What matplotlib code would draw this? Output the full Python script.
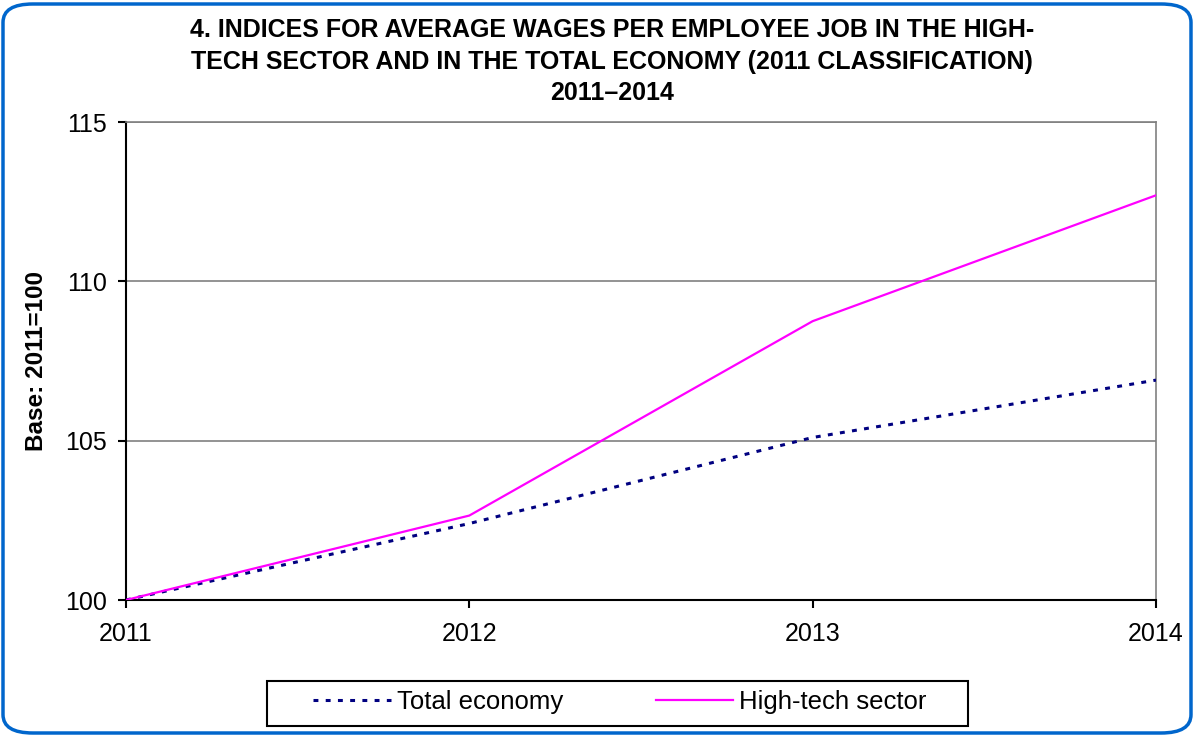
import matplotlib
matplotlib.use("Agg")
import matplotlib.pyplot as plt
from matplotlib.patches import FancyBboxPatch, Rectangle

years = [2011, 2012, 2013, 2014]
total_economy = [100.0, 102.4, 105.1, 106.9]
high_tech = [100.0, 102.65, 108.75, 112.7]
yticks = [100, 105, 110, 115]

plt.rcParams['font.family'] = ['Liberation Sans', 'DejaVu Sans']

W, H = 1195, 736
fig = plt.figure(figsize=(W / 100, H / 100), dpi=100)

# rounded blue frame
frame = FancyBboxPatch((3 / W, 3 / H), (W - 7) / W, (H - 7) / H,
                       boxstyle="round,pad=0,rounding_size=0.025",
                       transform=fig.transFigure, facecolor='none',
                       edgecolor='#0066CC', linewidth=2.5, zorder=10)
fig.patches.append(frame)

ax = fig.add_axes([126 / W, 1 - 600 / H, (1156 - 126) / W, (600 - 122) / H])
ax.set_facecolor('none')

ax.plot(years, total_economy, color='#000080', linestyle=(0, (1.6, 2.4)),
        linewidth=2.2, label='Total economy', zorder=3)
ax.plot(years, high_tech, color='#FF00FF', linestyle='-', linewidth=1.6,
        label='High-tech sector', zorder=4)

ax.set_xlim(2011, 2014)
ax.set_ylim(100, 115)
ax.set_xticks(years)
ax.set_yticks(yticks)
ax.yaxis.grid(True, color='#808080', linewidth=1.2)
ax.set_axisbelow(True)

for s in ['top', 'right']:
    ax.spines[s].set_color('#808080')
    ax.spines[s].set_linewidth(1.2)
for s in ['left', 'bottom']:
    ax.spines[s].set_color('black')
    ax.spines[s].set_linewidth(1.5)
ax.tick_params(axis='both', direction='out', length=6, width=1.5,
               color='black')
ax.tick_params(axis='x', pad=10)
ax.tick_params(axis='y', pad=8)
ax.set_xticklabels([str(y) for y in years], fontsize=18)
ax.set_yticklabels([str(v) for v in yticks], fontsize=18)

ax.set_ylabel('Base: 2011=100', fontsize=17.5, fontweight='bold', labelpad=12)

fig.text(0.512, 1 - 18 / H,
         '4. INDICES FOR AVERAGE WAGES PER EMPLOYEE JOB IN THE HIGH-\n'
         'TECH SECTOR AND IN THE TOTAL ECONOMY (2011 CLASSIFICATION)\n'
         '2011\u20132014',
         ha='center', va='top', fontsize=18, fontweight='bold',
         linespacing=1.4, multialignment='center')

leg = fig.legend(loc='center', bbox_to_anchor=(620 / W, 1 - 702 / H),
                 ncol=2, fontsize=18.5, frameon=False,
                 handlelength=3.0, columnspacing=3.6,
                 handletextpad=0.25)
fig.patches.append(Rectangle((267 / W, 1 - 726 / H), (968 - 267) / W, 45 / H,
                             transform=fig.transFigure, facecolor='none',
                             edgecolor='black', linewidth=1.5, zorder=5))

fig.savefig('out.png', dpi=100)
